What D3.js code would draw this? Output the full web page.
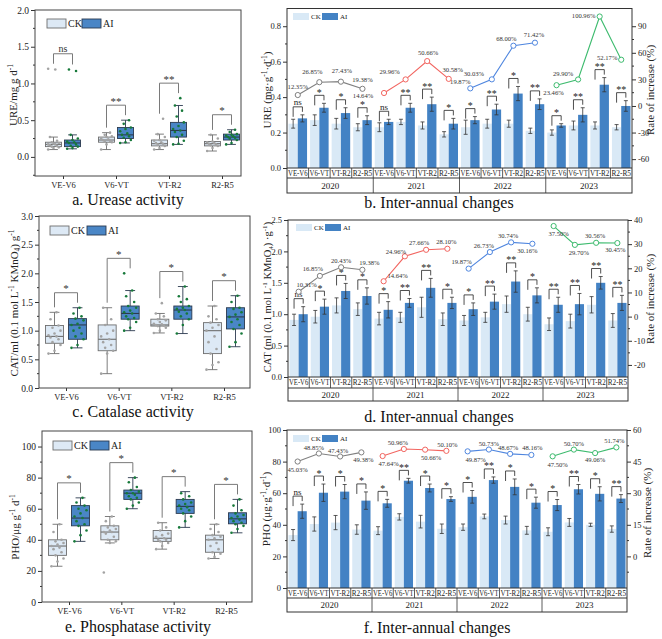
<!DOCTYPE html>
<html><head><meta charset="utf-8">
<script src="https://cdn.jsdelivr.net/npm/d3@7"></script>
<style>body{margin:0;background:#fff;} svg{display:block;}</style>
</head><body><svg id="c" width="662" height="639"></svg>
<script>
const stages = ["VE-V6","V6-VT","VT-R2","R2-R5"];
const years = ["2020","2021","2022","2023"];
const groups = ["CK","AI"];

// ---- box plots: [min, Q1, median, Q3, max]
const ureBoxCK = [[0.10,0.14,0.17,0.20,0.27],[0.10,0.20,0.23,0.27,0.33],[0.10,0.15,0.18,0.23,0.31],[0.08,0.15,0.18,0.21,0.30]];
const ureBoxAI = [[0.11,0.14,0.19,0.23,0.30],[0.19,0.25,0.30,0.40,0.50],[0.17,0.27,0.36,0.47,0.70],[0.17,0.23,0.27,0.31,0.37]];
const urePtsCK = [[0.10,0.12,0.13,0.14,0.15,0.16,0.17,0.17,0.18,0.19,0.20,0.22,0.27,1.19,1.20],
                  [0.10,0.17,0.20,0.21,0.22,0.23,0.24,0.25,0.27,0.28,0.30,0.33],
                  [0.10,0.12,0.15,0.17,0.18,0.19,0.20,0.22,0.23,0.27,0.31,0.52],
                  [0.08,0.12,0.15,0.16,0.17,0.18,0.19,0.20,0.21,0.25,0.30]];
const urePtsAI = [[0.11,0.12,0.14,0.15,0.17,0.19,0.20,0.21,0.23,0.25,0.30,1.17,1.19],
                  [0.19,0.20,0.23,0.26,0.28,0.30,0.32,0.35,0.38,0.40,0.45,0.50],
                  [0.17,0.18,0.22,0.27,0.30,0.34,0.36,0.38,0.42,0.47,0.55,0.63,0.70,0.80],
                  [0.17,0.19,0.23,0.25,0.26,0.27,0.28,0.29,0.30,0.31,0.34,0.37]];
const ureSigBox = ["ns","**","**","*"];

const catBoxCK = [[0.60,0.78,0.90,1.09,1.32],[0.25,0.65,0.85,1.10,1.40],[0.96,1.08,1.10,1.20,1.30],[0.32,0.60,1.00,1.14,1.43]];
const catBoxAI = [[0.70,0.85,1.10,1.21,1.40],[1.00,1.20,1.30,1.43,1.70],[0.95,1.20,1.36,1.43,1.77],[0.72,1.03,1.24,1.40,1.61]];
const catPtsCK = [[0.60,0.65,0.75,0.80,0.85,0.88,0.90,0.92,0.95,1.00,1.05,1.09,1.20,1.32],
                  [0.25,0.60,0.65,0.70,0.75,0.80,0.85,0.90,0.95,1.00,1.10,1.20,1.40],
                  [0.96,1.00,1.05,1.08,1.09,1.10,1.11,1.12,1.15,1.18,1.20,1.25,1.30,1.48],
                  [0.32,0.40,0.45,0.60,0.68,0.80,0.90,1.00,1.05,1.10,1.14,1.20,1.25,1.43]];
const catPtsAI = [[0.70,0.75,0.85,0.90,0.95,1.00,1.05,1.10,1.12,1.18,1.21,1.25,1.30,1.40],
                  [1.00,1.05,1.15,1.20,1.22,1.25,1.30,1.32,1.35,1.40,1.43,1.50,1.60,1.70,2.00],
                  [0.95,1.10,1.20,1.25,1.30,1.33,1.36,1.38,1.40,1.43,1.50,1.55,1.60,1.77],
                  [0.72,0.80,0.95,1.03,1.10,1.15,1.20,1.24,1.28,1.32,1.38,1.40,1.50,1.61]];
const catSigBox = ["*","*","*","*"];

const phoBoxCK = [[23,30,36,40,50],[38,40,45,49,55],[34,39,41,46,51],[28,32,40,43,50]];
const phoBoxAI = [[39,49,54,62,67],[60,66,70,72,80],[48,57,61.5,66,71],[44.5,50.3,53.5,57.4,66]];
const phoPtsCK = [[23,26,28,30,32,34,35,36,37,38,39,40,45,50],
                  [19,38,39,40,42,44,45,45,46,47,48,49,52,55],
                  [34,36,38,39,40,40,41,42,43,44,46,48,51],
                  [28,29,31,32,34,36,38,40,41,42,43,45,47,50]];
const phoPtsAI = [[39,43,46,49,50,52,54,55,57,59,60,62,64,67],
                  [60,62,64,66,67,68,69,70,70,71,72,74,77,80],
                  [48,52,55,57,59,60,61,62,63,64,66,68,70],
                  [44.5,47,49,50,51,52,53,54,55,56,57,59,62,66]];
const phoSigBox = ["*","*","*","*"];

// ---- inter-annual bars (year-major: 2020 x4 stages, 2021 ..., 2023)
const ureCK    = [0.25,0.27,0.25,0.23, 0.23,0.26,0.24,0.19, 0.23,0.25,0.25,0.21, 0.20,0.24,0.24,0.23];
const ureAI    = [0.28,0.34,0.31,0.27, 0.26,0.34,0.36,0.25, 0.27,0.33,0.42,0.36, 0.24,0.30,0.47,0.35];
const ureCKErr = [0.025,0.03,0.03,0.02, 0.025,0.015,0.02,0.015, 0.04,0.025,0.02,0.015, 0.015,0.025,0.02,0.015];
const ureAIErr = [0.02,0.025,0.03,0.025, 0.015,0.025,0.04,0.03, 0.02,0.03,0.04,0.03, 0.01,0.04,0.04,0.03];
const ureRate  = [12.35,26.85,27.43,19.38, 14.64,29.96,50.66,30.58, 19.87,30.03,68.00,71.42, 23.46,29.90,100.96,52.17];
const ureSig   = ["ns","*","*","*","ns","**","**","*","*","**","*","**","*","**","**","**"];

const catCK    = [0.91,0.96,1.14,1.08, 0.93,0.95,1.11,0.92, 0.90,0.95,1.16,1.00, 0.84,0.89,1.15,0.90];
const catAI    = [1.00,1.12,1.37,1.29, 1.07,1.18,1.42,1.18, 1.08,1.20,1.52,1.30, 1.15,1.16,1.50,1.18];
const catCKErr = [0.09,0.10,0.12,0.10, 0.10,0.08,0.16,0.10, 0.08,0.08,0.13,0.11, 0.10,0.11,0.13,0.11];
const catAIErr = [0.12,0.12,0.12,0.13, 0.13,0.07,0.15,0.09, 0.10,0.12,0.17,0.12, 0.12,0.17,0.10,0.12];
const catRate  = [10.31,16.85,20.43,19.38, 14.64,24.96,27.66,28.10, 19.87,26.73,30.74,30.16, 37.50,29.70,30.56,30.45];
const catSig   = ["ns","*","*","*","*","**","**","*","*","**","**","*","**","**","**","**"];

const phoCK    = [33.5,40.5,41.4,37, 36.3,45,42,37.5, 38.5,45.3,43,36.5, 35.6,41.5,40,37.3];
const phoAI    = [48.6,60.3,61,55.3, 53.6,67.9,63.3,56.3, 57.7,68.3,64,54, 52.5,62.5,59.6,56.6];
const phoCKErr = [3.5,4.5,4.5,3, 2.5,2,4,3, 2,1.5,2.5,2.5, 2.5,2.5,1,2];
const phoAIErr = [4.5,5.5,4.5,5.5, 2.5,1.5,2.5,1.5, 4,2,5,3.5, 3.5,3,4.5,2.5];
const phoRate  = [45.03,48.85,47.43,49.38, 47.64,50.96,50.66,50.10, 49.87,50.73,48.67,48.16, 47.50,50.70,49.06,51.74];
const phoSig   = ["ns","*","*","*","*","**","*","*","*","**","*","*","*","**","*","**"];

// ---- layout (label offsets of the rate labels, px)
const ureLblOff = [[0,-8],[-7,-10],[1,-11],[0,-9],[-21,3],[-16,-8],[1,-8],[4,-9],[-10,-7],[-18,-6],[-7,-7],[-1,-8],[-3,8],[-15,-6],[-16,-1],[-14,-2]];
const catLblOff = [[8,-7],[-7,-7],[0,-7],[7,-7],[14,-6],[-9,-5],[-7,-7],[-1,-7],[-7,-7],[-6,-6],[-3,-7],[-5,7],[5,8],[4,8],[-1,-7],[-2,7]];
const phoLblOff = [[0,8],[-5,-6],[-2,-6],[2,7],[6,8],[-6,-6],[6,8],[1,-6],[8,8],[0,-6],[-2,-6],[1,-7],[5,8],[0,-6],[0,7],[-2,-7]];

const FONT = '"Liberation Serif","Times New Roman",serif';
const YC = ["#808080","#f26560","#4f86df","#3dbb6e"];
const CKBAR = "#d9e9f6", AIBAR = "#4382c4";
const svg = d3.select("#c").attr("font-family", FONT);
svg.append("rect").attr("width",662).attr("height",639).attr("fill","#fff");

function rich(t, parts, fs){
  let shift = 0;
  parts.forEach(([s,k])=>{
    const target = k==="sup" ? -fs*0.38 : k==="sub" ? fs*0.22 : 0;
    const ts = t.append("tspan").text(s);
    if (target-shift !== 0) ts.attr("dy", target - shift);
    if (k!=="n") ts.attr("font-size", fs*0.68);
    shift = target;
  });
}
function vTitle(x, y, parts, fs){
  const t = svg.append("text").attr("transform",`translate(${x},${y}) rotate(-90)`)
    .attr("text-anchor","middle").attr("font-size",fs).attr("fill","#222");
  rich(t, parts, fs);
}
function styleAxis(a, fs){
  a.attr("font-family",FONT).attr("font-size",fs);
  a.select(".domain").remove();
  a.selectAll(".tick line").attr("stroke","#333");
  a.selectAll(".tick text").attr("fill","#222");
}
const hy = d => (d<0? "-" : "") + d3.format("d")(Math.abs(d));

function boxPanel(o){
  const g = svg.append("g");
  const y = d3.scaleLinear().domain(o.yDom).range([o.b,o.t]);
  const x = d3.scalePoint().domain(stages).range(o.xr);
  const ax = g.append("g").attr("transform",`translate(${o.l},0)`)
    .call(d3.axisLeft(y).tickValues(o.ticks).tickSize(4).tickPadding(2).tickFormat(d3.format(o.fmt)));
  styleAxis(ax, 9.5);
  o.minor.forEach(v=> g.append("line").attr("x1",o.l).attr("x2",o.l-2).attr("y1",y(v)).attr("y2",y(v)).attr("stroke","#333"));
  const axb = g.append("g").attr("transform",`translate(0,${o.b})`)
    .call(d3.axisBottom(x).tickSize(3).tickPadding(3));
  styleAxis(axb, 8.5);
  g.append("rect").attr("x",o.l).attr("y",o.t).attr("width",o.r-o.l).attr("height",o.b-o.t)
    .attr("fill","none").attr("stroke","#444").attr("stroke-width",1);
  const series = [
    {box:o.ckBox, pts:o.ckPts, off:-o.off, fill:"#dde9f5", stroke:"#6e6e6e", pc:"#a3a3a3"},
    {box:o.aiBox, pts:o.aiPts, off:o.off, fill:"#4a86c6", stroke:"#2b3a4f", pc:"#17793a"}];
  series.forEach(s=>{
    stages.forEach((st,i)=>{
      const [mn,q1,md,q3,mx] = s.box[i];
      const cx = x(st)+s.off, hw = o.bw/2;
      g.append("path").attr("d",`M${cx},${y(mn)}V${y(q1)}M${cx},${y(q3)}V${y(mx)}M${cx-hw*0.55},${y(mn)}H${cx+hw*0.55}M${cx-hw*0.55},${y(mx)}H${cx+hw*0.55}`)
        .attr("stroke",s.stroke).attr("stroke-width",0.9).attr("fill","none");
      g.append("rect").attr("x",cx-hw).attr("y",y(q3)).attr("width",o.bw).attr("height",y(q1)-y(q3))
        .attr("fill",s.fill).attr("stroke",s.stroke).attr("stroke-width",0.9);
      g.append("line").attr("x1",cx-hw).attr("x2",cx+hw).attr("y1",y(md)).attr("y2",y(md))
        .attr("stroke",s.stroke).attr("stroke-width",1.1);
      s.pts[i].forEach((v,j)=>{
        g.append("circle").attr("cx",cx+((j*3)%7-3)*o.bw/9).attr("cy",y(v)).attr("r",1.3).attr("fill",s.pc);
      });
    });
  });
  stages.forEach((st,i)=>{
    const mC = d3.max([o.ckBox[i][4], ...o.ckPts[i]]), mA = d3.max([o.aiBox[i][4], ...o.aiPts[i]]);
    const top = y(Math.max(mC,mA)) - 15;
    const xl = x(st)-o.off, xr = x(st)+o.off;
    const bl = Math.max(y(mC)-5, top+5), br = Math.max(y(mA)-5, top+5);
    g.append("path").attr("d",`M${xl},${bl}V${top}H${xr}V${br}`).attr("fill","none").attr("stroke","#7a7a7a").attr("stroke-width",1);
    g.append("text").attr("x",x(st)).attr("y",o.sig[i]==="ns"? top-2 : top-0.5).attr("text-anchor","middle")
      .attr("font-size",o.sig[i]==="ns"?10:11).attr("fill","#333").text(o.sig[i]);
  });
  [["#dde9f5","#6e6e6e"],["#4a86c6","#2b3a4f"]].forEach((c,k)=>{
    const lx = o.leg[0] + k*o.leg[2];
    g.append("rect").attr("x",lx).attr("y",o.leg[1]).attr("width",19).attr("height",9).attr("fill",c[0]).attr("stroke",c[1]).attr("stroke-width",0.9);
    g.append("text").attr("x",lx+21).attr("y",o.leg[1]+8).attr("font-size",10).attr("fill","#222").text(groups[k]);
  });
}

function barPanel(o){
  const g = svg.append("g");
  const idx = d3.range(16);
  const x = d3.scaleBand().domain(idx).range([o.l,o.r]);
  const y = d3.scaleLinear().domain(o.yDom).range([o.pb,o.t]);
  const y2 = d3.scaleLinear().domain(o.y2Dom).range([o.pb,o.t]);
  const bw = x.bandwidth(), barW = bw*0.43;
  idx.forEach(i=>{
    const c = x(i)+bw/2;
    g.append("rect").attr("x",c-barW).attr("y",y(o.ck[i])).attr("width",barW).attr("height",o.pb-y(o.ck[i])).attr("fill",CKBAR);
    g.append("rect").attr("x",c).attr("y",y(o.ai[i])).attr("width",barW).attr("height",o.pb-y(o.ai[i])).attr("fill",AIBAR);
  });
  idx.forEach(i=>{
    const c = x(i)+bw/2;
    [[c-barW/2,o.ck[i],o.ckE[i]],[c+barW/2,o.ai[i],o.aiE[i]]].forEach(([ex,v,e])=>{
      const a=y(v+e), b=y(v-e);
      g.append("path").attr("d",`M${ex-2},${a}H${ex+2}M${ex},${a}V${b}M${ex-2},${b}H${ex+2}`)
        .attr("stroke","#333").attr("stroke-width",0.8).attr("fill","none");
    });
    const top = y(o.ai[i]+o.aiE[i]) - 8;
    g.append("path").attr("d",`M${c-barW/2},${top+10}V${top}H${c+barW/2}V${top+5}`)
      .attr("stroke","#222").attr("stroke-width",0.8).attr("fill","none");
    g.append("text").attr("x",c).attr("y",o.sig[i]==="ns"? top-1.5 : top+0.5).attr("text-anchor","middle")
      .attr("font-size",o.sig[i]==="ns"?9:10).attr("fill","#222").text(o.sig[i]);
  });
  const ax = g.append("g").attr("transform",`translate(${o.l},0)`)
    .call(d3.axisLeft(y).tickValues(o.yTicks).tickSize(4).tickPadding(2).tickFormat(d3.format(o.fmt)));
  styleAxis(ax, 8.5);
  o.yMinor.forEach(v=> g.append("line").attr("x1",o.l).attr("x2",o.l-2).attr("y1",y(v)).attr("y2",y(v)).attr("stroke","#333"));
  const ax2 = g.append("g").attr("transform",`translate(${o.r},0)`)
    .call(d3.axisRight(y2).tickValues(o.y2Ticks).tickSize(4).tickPadding(2).tickFormat(hy));
  styleAxis(ax2, 8.5);
  o.y2Minor.forEach(v=> g.append("line").attr("x1",o.r).attr("x2",o.r+2).attr("y1",y2(v)).attr("y2",y2(v)).attr("stroke","#333"));
  years.forEach((yr,k)=>{
    const ids = d3.range(k*4,k*4+4);
    const line = d3.line().x(i=>x(i)+bw/2).y(i=>y2(o.rate[i]));
    g.append("path").attr("d",line(ids)).attr("fill","none").attr("stroke",YC[k]).attr("stroke-width",1.1);
    ids.forEach(i=>{
      g.append("circle").attr("cx",x(i)+bw/2).attr("cy",y2(o.rate[i])).attr("r",2.6)
        .attr("fill","#fff").attr("stroke",YC[k]).attr("stroke-width",1);
      g.append("text").attr("x",x(i)+bw/2+o.off[i][0]).attr("y",y2(o.rate[i])+o.off[i][1]).attr("dy","0.35em")
        .attr("text-anchor","middle").attr("font-size",6.6).attr("fill","#333").text(d3.format(".2f")(o.rate[i])+"%");
    });
  });
  const sb = o.pb + o.sh;
  g.append("rect").attr("x",o.l).attr("y",o.t).attr("width",o.r-o.l).attr("height",o.fb-o.t)
    .attr("fill","none").attr("stroke","#333").attr("stroke-width",1);
  g.append("line").attr("x1",o.l).attr("x2",o.r).attr("y1",o.pb).attr("y2",o.pb).attr("stroke","#333");
  g.append("line").attr("x1",o.l).attr("x2",o.r).attr("y1",sb).attr("y2",sb).attr("stroke","#333");
  idx.slice(1).forEach(i=>{
    g.append("line").attr("x1",x(i)).attr("x2",x(i)).attr("y1",o.pb).attr("y2",i%4===0? o.fb : sb)
      .attr("stroke","#333").attr("stroke-width",0.8);
  });
  idx.forEach(i=>{
    g.append("text").attr("x",x(i)+bw/2).attr("y",o.pb+o.sh/2+2.7).attr("text-anchor","middle")
      .attr("font-size",7.5).attr("textLength",bw-2).attr("lengthAdjust","spacingAndGlyphs")
      .attr("fill","#222").text(stages[i%4]);
  });
  years.forEach((yr,k)=>{
    g.append("text").attr("x",x(k*4)+bw*2).attr("y",(sb+o.fb)/2+3.2).attr("text-anchor","middle")
      .attr("font-size",9).attr("fill","#222").text(yr);
  });
  [CKBAR,AIBAR].forEach((c,k)=>{
    const lx = o.leg[0] + k*29;
    g.append("rect").attr("x",lx).attr("y",o.leg[1]).attr("width",16).attr("height",7).attr("fill",c);
    g.append("text").attr("x",lx+18).attr("y",o.leg[1]+6.3).attr("font-size",7).attr("fill","#222").text(groups[k]);
  });
}

boxPanel({l:35,r:241,t:10,b:176,yDom:[-0.26,2.0],ticks:[0,0.5,1,1.5,2],minor:[-0.25,0.25,0.75,1.25,1.75],fmt:".1f",
  xr:[63,222],off:9.5,bw:16,ckBox:ureBoxCK,aiBox:ureBoxAI,ckPts:urePtsCK,aiPts:urePtsAI,sig:ureSigBox,leg:[47,19,35]});
boxPanel({l:39,r:250,t:216,b:388,yDom:[0,3],ticks:[0,0.5,1,1.5,2,2.5,3],minor:[0.25,0.75,1.25,1.75,2.25,2.75],fmt:".1f",
  xr:[66,224],off:11.5,bw:18,ckBox:catBoxCK,aiBox:catBoxAI,ckPts:catPtsCK,aiPts:catPtsAI,sig:catSigBox,leg:[50,226,37]});
boxPanel({l:42,r:252,t:431,b:602,yDom:[0,110],ticks:[0,20,40,60,80,100],minor:[10,30,50,70,90],fmt:"d",
  xr:[69,226],off:11.5,bw:18,ckBox:phoBoxCK,aiBox:phoBoxAI,ckPts:phoPtsCK,aiPts:phoPtsAI,sig:phoSigBox,leg:[53,441,37]});

barPanel({l:287,r:632,t:8.5,pb:168,sh:10,fb:193,yDom:[0,0.9],y2Dom:[-70,110],
  yTicks:[0,0.2,0.4,0.6,0.8],yMinor:[0.1,0.3,0.5,0.7],fmt:".1f",y2Ticks:[-60,-30,0,30,60,90],y2Minor:[-45,-15,15,45,75],
  ck:ureCK,ai:ureAI,ckE:ureCKErr,aiE:ureAIErr,rate:ureRate,sig:ureSig,off:ureLblOff,leg:[293,13]});
barPanel({l:288,r:628,t:220,pb:377,sh:11,fb:401,yDom:[0,2.5],y2Dom:[-25,40],
  yTicks:[0,0.5,1,1.5,2,2.5],yMinor:[0.25,0.75,1.25,1.75,2.25],fmt:".1f",y2Ticks:[-20,-10,0,10,20,30,40],y2Minor:[-15,-5,5,15,25,35],
  ck:catCK,ai:catAI,ckE:catCKErr,aiE:catAIErr,rate:catRate,sig:catSig,off:catLblOff,leg:[296,224]});
barPanel({l:287,r:627,t:430,pb:588,sh:10,fb:612,yDom:[0,100],y2Dom:[-15,60],
  yTicks:[0,20,40,60,80,100],yMinor:[10,30,50,70,90],fmt:"d",y2Ticks:[0,15,30,45,60],y2Minor:[-7.5,7.5,22.5,37.5,52.5],
  ck:phoCK,ai:phoAI,ckE:phoCKErr,aiE:phoAIErr,rate:phoRate,sig:phoSig,off:phoLblOff,leg:[293,435]});

vTitle(17,95,[["URE/mg g d","n"],["-1","sup"]],11);
vTitle(18,303,[["CAT/ml (0.1 mol L","n"],["-1","sup"],[" KMnO","n"],["4","sub"],[") g","n"],["-1","sup"]],11);
vTitle(19,527,[["PHO/μg g","n"],["-1","sup"],[" d","n"],["-1","sup"]],11);
vTitle(271,90,[["URE (mg·g","n"],["-1","sup"],["·d","n"],["-1","sup"],[")","n"]],11);
vTitle(271,297,[["CAT (ml (0.1 mol L","n"],["-1","sup"],[" KMnO","n"],["4","sub"],[") ·g","n"],["-1","sup"],[")","n"]],10.5);
vTitle(270,509,[["PHO (μg·g","n"],["-1","sup"],["·d","n"],["-1","sup"],[")","n"]],11);
[[654,90],[654,299],[651,513]].forEach(p=> vTitle(p[0],p[1],[["Rate of increase (%)","n"]],11));

[["a. Urease activity",128,205],["b. Inter-annual changes",439,208],["c. Catalase activity",133,417],
 ["d. Inter-annual changes",439,422],["e. Phosphatase activity",138,632],["f. Inter-annual changes",437,633]]
 .forEach(([s,x,y])=> svg.append("text").attr("x",x).attr("y",y).attr("text-anchor","middle").attr("font-size",16).attr("fill","#111").text(s));
</script></body></html>
